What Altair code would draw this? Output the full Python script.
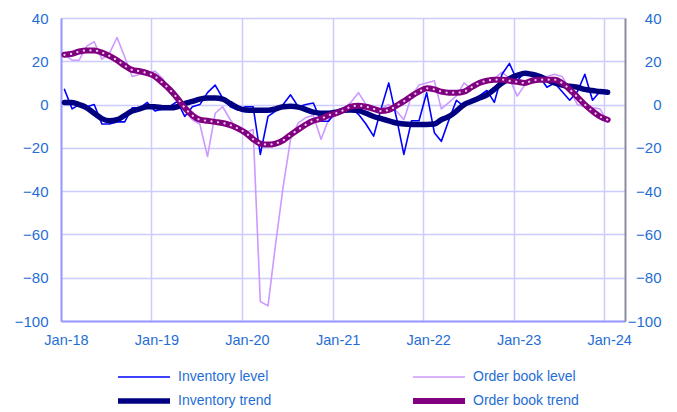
import altair as alt
import pandas as pd

# ---- data (monthly, Jan-18 .. Jan-24) ----
months = pd.date_range("2018-01-01", "2024-01-01", freq="MS")
dates = [f"{d.year}-{d.month:02d}-15T00:00:00" for d in months]

inventory_level = [7, -2, 0, -1, 0, -9, -9, -8, -8, -1.5, -1.5, 1,
                   -3, -2, -1, 1.5, -5.5, -1, 0, 5.5, 9, 3, -1, -2.5,
                   -1, -1, -23, -5.5, -3, 0, 4.5, -1, 0, 0.7, -7.7, -7.7,
                   -3, -2, -1, -4.5, -9, -14.6, -2, 10, -6, -23, -7.5, -7.5,
                   5.5, -13, -17, -7, 2, -1, 2, 4, 6.5, 1, 14, 19,
                   11, 15, 13, 13, 8, 10, 6, 2, 6, 14, 2, 6,
                   5]
order_book_level = [23, 20.5, 20.5, 27, 29, 21, 23.5, 31, 22, 13, 14, 14,
                    15.5, 12, 7, 2, -3, -7, -9, -24, -4, -1, -7, -12,
                    -13, -11.5, -91, -93, -65, -38, -16, -8.5, -6, -5, -16, -7,
                    -5, -2, 1, 5.5, 0, -1, -2, 0, -3, -7, 4, 9,
                    10, 11, -2, 1, 4, 10, 7, 9, 11, 12, 15, 12,
                    4, 9, 11, 13, 13, 14, 13, 7, 0, -1, -1.5, -2,
                    -8]
inventory_trend = [1, 1, 0, -1.5, -4, -6.5, -7.5, -7, -5, -3, -2, -1,
                   -1, -1.5, -1.5, -1, 0.5, 1.5, 2.5, 3, 3, 2.5, 0.5, -1.5,
                   -2.5, -2.6, -2.6, -2.6, -2, -1, -0.8, -1.2, -2.3, -3.5, -4, -4,
                   -3.5, -2.6, -2.5, -2.8, -4, -5.5, -6.5, -7.5, -8.5, -9, -9.2, -9.2,
                   -9.2, -9, -7, -5.5, -3, 0, 1.5, 3, 4.5, 7, 10, 12,
                   13.5, 14.5, 14, 13, 11.5, 10, 9, 8.5, 8, 7, 6.5, 6,
                   5.7]
order_book_trend = [23, 23.5, 24.5, 25, 25, 24, 22.5, 20.5, 18, 16, 15.4, 14.5,
                    13, 10, 7, 3, -1.5, -5, -7, -7.5, -8, -8.5, -9.5, -11,
                    -13, -16, -18, -18.5, -18, -16.5, -14, -11.5, -9.2, -7.5, -6.5, -5,
                    -4, -2.5, -1, -0.5, -1, -2, -3, -2.5, -0.5, 1.5, 4, 6,
                    7.5, 7, 6, 5.5, 5.5, 6, 8, 10, 11, 11.5, 11.5, 11,
                    10.5, 10, 11, 11.5, 11.5, 11.5, 10, 7, 3.5, 0, -3, -5.5,
                    -7]

# legend fills column by column: column 1 = inventory, column 2 = order book
series_names = ["Inventory level", "Inventory trend", "Order book level", "Order book trend"]
series_colors = ["#0000FF", "#000080", "#CC99FF", "#800080"]
series_widths = [1.6, 5.5, 1.6, 6]
y_ticks = [-100, -80, -60, -40, -20, 0, 20, 40]
x_tick_years = [2018, 2019, 2020, 2021, 2022, 2023, 2024]

rows = []
for name, vals in zip(["Inventory level", "Order book level", "Inventory trend", "Order book trend"],
                      [inventory_level, order_book_level, inventory_trend, order_book_trend]):
    for d, v in zip(dates, vals):
        rows.append({"date": d, "value": v, "series": name})
df = pd.DataFrame(rows)

LABEL_COLOR = "#1F6ED4"
FONT = "Liberation Sans, Arial, sans-serif"

x_scale = alt.Scale(domain=[alt.DateTime(year=2018, month=1, date=1),
                            alt.DateTime(year=2024, month=3, date=25)])
y_scale = alt.Scale(domain=[-100, 40], nice=False, zero=False)
color_scale = alt.Scale(domain=series_names, range=series_colors)
sw_scale = alt.Scale(type="ordinal", domain=series_names, range=series_widths)

x_axis = alt.Axis(values=[alt.DateTime(year=y, month=1, date=1) for y in x_tick_years],
                  format="%b-%y", title=None, grid=True, gridColor="#CCCCFF", gridWidth=1.5,
                  domainColor="#9999FF", domainWidth=2, ticks=False,
                  labelPadding=12, labelOffset=5, labelFlush=False, labelOverlap=False,
                  labelFontSize=14.5, labelColor=LABEL_COLOR, labelFont=FONT)
y_axis_left = alt.Axis(values=y_ticks, title=None, grid=True, gridColor="#CCCCFF", gridWidth=1.5,
                       domainColor="#9999FF", domainWidth=2, ticks=False,
                       labelPadding=13, labelFontSize=15, labelColor=LABEL_COLOR, labelFont=FONT)
y_axis_right = alt.Axis(values=y_ticks, title=None, grid=False, orient="right",
                        domainColor="#8C8CA0", domainWidth=2, ticks=False,
                        labelAlign="right", labelPadding=36, labelFontSize=15,
                        labelColor=LABEL_COLOR, labelFont=FONT)

legend = alt.Legend(title=None, orient="none", legendX=54, legendY=351, columns=2,
                    symbolType="stroke", symbolSize=2704, clipHeight=16,
                    rowPadding=8, columnPadding=138, labelOffset=5, padding=0,
                    labelFontSize=14, labelColor=LABEL_COLOR, labelFont=FONT)


def line_layer(name, interpolate, y_axis):
    return alt.Chart(df).transform_filter(alt.datum.series == name).mark_line(
        interpolate=interpolate, strokeCap="round", strokeJoin="round"
    ).encode(
        x=alt.X("date:T", scale=x_scale, axis=x_axis),
        y=alt.Y("value:Q", scale=y_scale, axis=y_axis),
        color=alt.Color("series:N", scale=color_scale, legend=legend),
        strokeWidth=alt.StrokeWidth("series:O", scale=sw_scale, legend=legend),
    )


order_level_layer = line_layer("Order book level", "linear", y_axis_left)
inv_level_layer = line_layer("Inventory level", "linear", y_axis_right)
inv_trend_layer = line_layer("Inventory trend", "monotone", None)
order_trend_layer = line_layer("Order book trend", "monotone", None)

dots_layer = alt.Chart(df).transform_filter(alt.datum.series == "Order book trend").mark_line(
    interpolate="monotone", color="#EBCBEB", strokeWidth=2.2,
    strokeDash=[0.1, 6.5], strokeCap="round"
).encode(
    x=alt.X("date:T", scale=x_scale, axis=x_axis),
    y=alt.Y("value:Q", scale=y_scale, axis=None),
)

chart = alt.layer(
    order_level_layer, inv_level_layer, inv_trend_layer, order_trend_layer, dots_layer
).resolve_axis(y="independent").properties(
    width=564, height=303,
    padding={"left": 53, "top": 10, "right": 44, "bottom": 89},
    autosize=alt.AutoSizeParams(type="none"),
).configure_view(
    stroke="#A8A8FF", strokeWidth=2
).configure(font=FONT)

chart.save("out.html", embed_options={"renderer": "svg", "actions": False})
